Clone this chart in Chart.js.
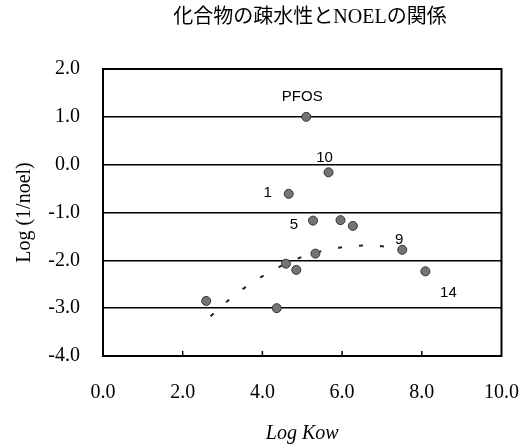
<!DOCTYPE html>
<html>
<head>
<meta charset="utf-8">
<script src="https://cdn.jsdelivr.net/npm/chart.js@4/dist/chart.umd.min.js"></script>
<style>
  body { margin: 0; background: #fff; }
  canvas { display: block; }
</style>
</head>
<body>
<canvas id="myChart" width="522" height="446"></canvas>
<script>
'use strict';

// Compounds: Log Kow vs Log (1/noel)
let pointNames = ['PFOS', '10', '1', '5', '', '', '', '9', '', '', '14', '', ''];
let logKow = [5.1, 5.66, 4.66, 5.27, 5.96, 6.27, 5.33, 7.51, 4.59, 4.85, 8.09, 2.59, 4.36];
let logNoel = [1.0, -0.16, -0.61, -1.17, -1.16, -1.28, -1.86, -1.78, -2.07, -2.2, -2.23, -2.85, -3.0];

// trend curve (dashed)
let curveX = [2.7, 3.2, 3.7, 4.2, 4.7, 5.2, 5.7, 6.2, 6.7, 7.2, 7.7, 7.9];
let curveY = [-3.17, -2.8, -2.49, -2.24, -2.03, -1.87, -1.77, -1.71, -1.69, -1.73, -1.82, -1.86];

let xTickMarks = [2, 4, 6, 8];
let chartTitle = '化合物の疎水性とNOELの関係';

const serif = '"Liberation Serif", "Times New Roman", serif';

// where each name sits relative to its point
let labelOffsets = {
  'PFOS': [-4, -20],
  '10': [-4, -14],
  '1': [-21, -1],
  '5': [-19, 4],
  '9': [-3, -10],
  '14': [23, 22]
};

let pointData = [];
for (let i = 0; i < logKow.length; i++) {
  pointData.push({ x: logKow[i], y: logNoel[i] });
}
let curveData = [];
for (let i = 0; i < curveX.length; i++) {
  curveData.push({ x: curveX[i], y: curveY[i] });
}

// frame around the plot + small inside ticks on the bottom edge
let framePlugin = {
  id: 'frame',
  afterDraw(chart) {
    let ctx = chart.ctx;
    let a = chart.chartArea;
    ctx.save();
    ctx.strokeStyle = '#000';
    ctx.lineWidth = 2;
    ctx.strokeRect(a.left, a.top, a.right - a.left, a.bottom - a.top);
    ctx.lineWidth = 1.5;
    xTickMarks.forEach(function (v) {
      let px = chart.scales.x.getPixelForValue(v);
      ctx.beginPath();
      ctx.moveTo(px, a.bottom);
      ctx.lineTo(px, a.bottom - 5);
      ctx.stroke();
    });
    ctx.restore();
  }
};

let namesPlugin = {
  id: 'names',
  afterDatasetsDraw(chart) {
    let ctx = chart.ctx;
    ctx.save();
    ctx.fillStyle = '#000';
    ctx.font = '15px "Liberation Sans", Arial, sans-serif';
    ctx.textAlign = 'center';
    ctx.textBaseline = 'middle';
    for (let i = 0; i < pointNames.length; i++) {
      let name = pointNames[i];
      if (!name) continue;
      let off = labelOffsets[name] || [0, -12];
      let px = chart.scales.x.getPixelForValue(logKow[i]);
      let py = chart.scales.y.getPixelForValue(logNoel[i]);
      ctx.fillText(name, px + off[0], py + off[1]);
    }
    ctx.restore();
  }
};

let titlePlugin = {
  id: 'topTitle',
  afterDraw(chart) {
    let ctx = chart.ctx;
    ctx.save();
    ctx.fillStyle = '#000';
    ctx.font = '20px "Liberation Serif", "Noto Sans CJK JP", serif';
    ctx.textAlign = 'center';
    ctx.textBaseline = 'middle';
    ctx.fillText(chartTitle, 310, 18);
    ctx.restore();
  }
};

function chart() {
  let ctx = document.getElementById('myChart');
  // eslint-disable-next-line no-undef
  let myChart = new Chart(ctx, {
    type: 'scatter',
    data: {
      datasets: [{
        label: 'compounds',
        data: pointData,
        order: 0,
        pointRadius: 4.5,
        pointBackgroundColor: '#747474',
        pointBorderColor: '#333',
        pointBorderWidth: 1
      }, {
        label: 'trend',
        data: curveData,
        order: 1,
        showLine: true,
        pointRadius: 0,
        borderColor: '#222',
        borderWidth: 2,
        borderDash: [4, 17],
        tension: 0.4
      }]
    },
    options: {
      responsive: false,
      animation: false,
      layout: { padding: { left: 13, right: 20.5, top: 69, bottom: 0 } },
      plugins: {
        legend: { display: false },
        tooltip: { enabled: false },
        title: { display: false }
      },
      scales: {
        x: {
          type: 'linear',
          min: 0,
          max: 10,
          afterFit(scale) {
            scale.height = 90;
            // let the end labels hang past the plot edges
            scale.paddingLeft = 0;
            scale.paddingRight = 0;
          },
          ticks: {
            stepSize: 2,
            padding: 25,
            color: '#000',
            font: { family: serif, size: 20 },
            callback: function (v) { return v.toFixed(1); }
          },
          grid: { display: false, drawTicks: false },
          border: { display: false },
          title: {
            display: true,
            text: 'Log Kow',
            color: '#000',
            padding: 0,
            font: { family: serif, size: 20, style: 'italic' }
          }
        },
        y: {
          min: -4,
          max: 2,
          afterFit(scale) {
            scale.width = 90;
            scale.paddingTop = 0;
            scale.paddingBottom = 0;
          },
          ticks: {
            stepSize: 1,
            padding: 23,
            color: '#000',
            font: { family: serif, size: 20 },
            callback: function (v) { return v.toFixed(1); }
          },
          grid: { color: '#000', lineWidth: 1.5, drawTicks: false },
          border: { display: false },
          title: {
            display: true,
            text: 'Log (1/noel)',
            color: '#000',
            padding: 0,
            font: { family: serif, size: 20 }
          }
        }
      }
    },
    plugins: [framePlugin, namesPlugin, titlePlugin]
  });
}
chart();
</script>
</body>
</html>
